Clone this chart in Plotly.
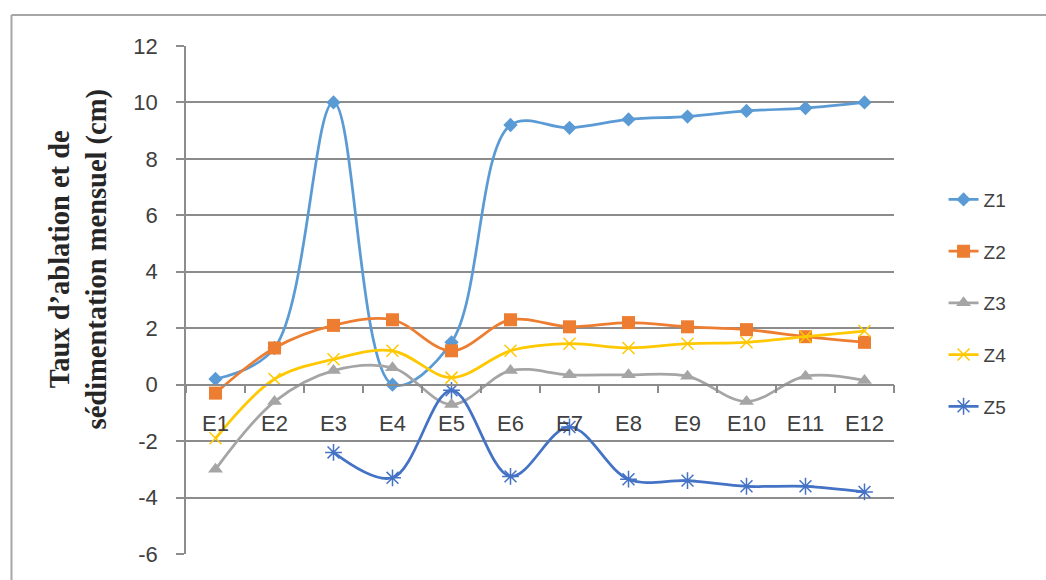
import plotly.graph_objects as go

# Station labels along the x axis
stations = ["E1", "E2", "E3", "E4", "E5", "E6", "E7", "E8", "E9", "E10", "E11", "E12"]

# Monthly ablation / sedimentation rate per zone (cm)
z1 = [0.2, 1.3, 10.0, 0.0, 1.5, 9.2, 9.1, 9.4, 9.5, 9.7, 9.8, 10.0]
z2 = [-0.3, 1.3, 2.1, 2.3, 1.2, 2.3, 2.05, 2.2, 2.05, 1.95, 1.7, 1.5]
z3 = [-3.0, -0.6, 0.5, 0.6, -0.7, 0.5, 0.35, 0.35, 0.3, -0.6, 0.3, 0.15]
z4 = [-1.9, 0.2, 0.9, 1.2, 0.25, 1.2, 1.45, 1.3, 1.45, 1.5, 1.7, 1.9]
z5 = [None, None, -2.4, -3.3, -0.2, -3.25, -1.5, -3.35, -3.4, -3.6, -3.6, -3.8]

y_ticks = [-6, -4, -2, 0, 2, 4, 6, 8, 10, 12]
y_tick_text = [str(v) for v in y_ticks]

series = [
    ("Z1", z1, "#5B9BD5", dict(symbol="diamond", size=11)),
    ("Z2", z2, "#ED7D31", dict(symbol="square", size=13)),
    ("Z3", z3, "#A5A5A5", dict(symbol="triangle-up", size=13)),
    ("Z4", z4, "#FFC800", dict(symbol="x-thin-open", size=12, line=dict(width=1.5, color="#FFC800"))),
    ("Z5", z5, "#4472C4", dict(symbol="asterisk-open", size=14, line=dict(width=1.5, color="#4472C4"))),
]

fig = go.Figure()
for name, vals, color, marker in series:
    m = dict(color=color)
    m.update(marker)
    fig.add_trace(go.Scatter(
        x=stations, y=vals, name=name, mode="lines+markers",
        line=dict(color=color, width=2.75, shape="spline", smoothing=1.0),
        marker=m, connectgaps=False, legendgroup=name,
    ))

grid_col = "#8C8C8C"
tick_font = dict(family="Liberation Sans, Arial, sans-serif", size=22, color="#404040")

fig.update_layout(
    width=1046, height=580,
    margin=dict(l=186, r=152, t=46, b=26),
    paper_bgcolor="white", plot_bgcolor="white",
    showlegend=True,
    legend=dict(
        x=1.07, y=0.735, xanchor="left", yanchor="top",
        font=dict(family="Liberation Sans, Arial, sans-serif", size=19, color="#404040"),
        tracegroupgap=24, traceorder="grouped",
        bgcolor="rgba(0,0,0,0)",
    ),
    xaxis=dict(
        type="category", range=[-0.5, 11.5],
        anchor="free", position=6 / 18,
        showline=True, linecolor=grid_col, linewidth=1.5,
        ticks="outside", tickson="boundaries", ticklen=8, tickcolor=grid_col, tickwidth=1.5,
        ticklabelstandoff=19,
        tickfont=tick_font, showgrid=False, zeroline=False,
    ),
    yaxis=dict(
        range=[-6, 12], tickvals=y_ticks, ticktext=y_tick_text,
        showline=True, linecolor=grid_col, linewidth=1.5,
        ticks="outside", ticklen=8, tickcolor=grid_col, tickwidth=1.5,
        ticklabelstandoff=14,
        showgrid=True, gridcolor=grid_col, gridwidth=1.5,
        zeroline=False, tickfont=tick_font,
    ),
)

# Rotated y-axis title
fig.add_annotation(
    text="<b>Taux d\u2019ablation et de<br>sédimentation mensuel (cm)</b>",
    xref="paper", yref="paper", x=-0.1525, y=0.58,
    xanchor="center", yanchor="middle", textangle=-90, showarrow=False,
    font=dict(family="Liberation Serif, Times New Roman, serif", size=28.5, color="#262626"),
)

# Outer chart frame (left and top edges)
fig.add_shape(type="line", xref="paper", yref="paper",
              x0=-0.2465, x1=-0.2465, y0=-0.06, y1=1.061,
              line=dict(color="#A6A6A6", width=2))
fig.add_shape(type="line", xref="paper", yref="paper",
              x0=-0.2465, x1=1.25, y0=1.061, y1=1.061,
              line=dict(color="#A6A6A6", width=2))

fig.write_html("out.html")
